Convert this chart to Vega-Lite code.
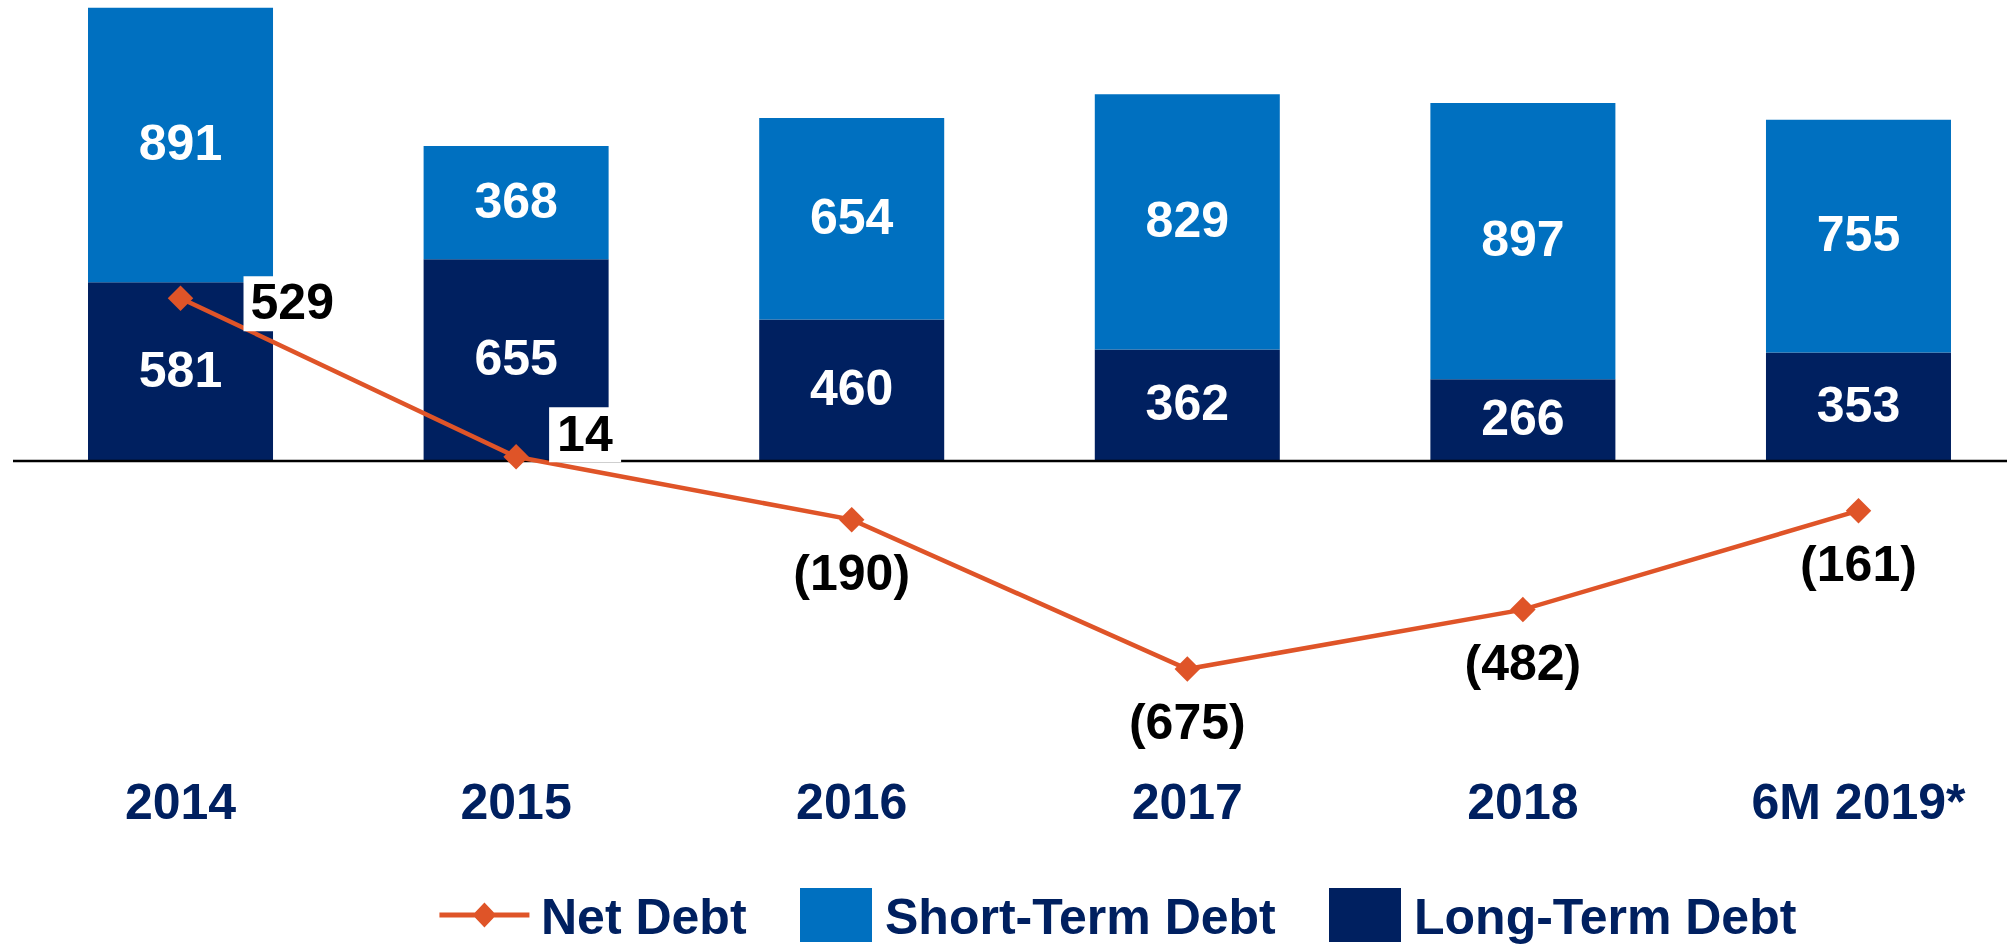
{
  "$schema": "https://vega.github.io/schema/vega-lite/v6.json",
  "width": 1994,
  "height": 771,
  "autosize": {"type": "none"},
  "padding": {"left": 13, "top": 0, "right": 0, "bottom": 175},
  "config": {"view": {"stroke": null}, "font": "Liberation Sans"},
  "data": {
    "values": [
      {"year": "2014", "series": "Long-Term Debt", "value": 581},
      {"year": "2015", "series": "Long-Term Debt", "value": 655},
      {"year": "2016", "series": "Long-Term Debt", "value": 460},
      {"year": "2017", "series": "Long-Term Debt", "value": 362},
      {"year": "2018", "series": "Long-Term Debt", "value": 266},
      {"year": "6M 2019*", "series": "Long-Term Debt", "value": 353},
      {"year": "2014", "series": "Short-Term Debt", "value": 891},
      {"year": "2015", "series": "Short-Term Debt", "value": 368},
      {"year": "2016", "series": "Short-Term Debt", "value": 654},
      {"year": "2017", "series": "Short-Term Debt", "value": 829},
      {"year": "2018", "series": "Short-Term Debt", "value": 897},
      {"year": "6M 2019*", "series": "Short-Term Debt", "value": 755},
      {"year": "2014", "series": "Net Debt", "value": 529},
      {"year": "2015", "series": "Net Debt", "value": 14},
      {"year": "2016", "series": "Net Debt", "value": -190},
      {"year": "2017", "series": "Net Debt", "value": -675},
      {"year": "2018", "series": "Net Debt", "value": -482},
      {"year": "6M 2019*", "series": "Net Debt", "value": -161}
    ]
  },
  "layer": [
    {
      "transform": [{"filter": "datum.series !== 'Net Debt'"}],
      "mark": {"type": "bar"},
      "encoding": {
        "x": {"field": "year", "type": "nominal", "sort": ["2014", "2015", "2016", "2017", "2018", "6M 2019*"],
          "scale": {"paddingInner": 0.4487, "paddingOuter": 0.1952, "align": 0.5725},
          "axis": {"title": null, "domain": false, "ticks": false, "tickSize": 0, "labelPadding": 7.5, "labelAngle": 0,
            "labelFont": "Liberation Sans", "labelFontSize": 50, "labelFontWeight": "bold", "labelColor": "#002060", "labelLimit": 1000}},
        "y": {"field": "value", "type": "quantitative", "stack": "zero", "scale": {"domain": [-1006, 1497], "nice": false, "zero": false}, "axis": null},
        "color": {"field": "series", "type": "nominal",
          "scale": {"domain": ["Net Debt", "Short-Term Debt", "Long-Term Debt"], "range": ["#DF5428", "#0070C0", "#002060"]},
          "legend": {
            "orient": "none", "legendX": 443, "legendY": 879, "direction": "horizontal", "title": null,
            "symbolSize": 5184, "symbolStrokeWidth": 0,
            "labelFont": "Liberation Sans", "labelFontSize": 50, "labelFontWeight": "bold", "labelColor": "#002060",
            "labelOffset": 13, "columnPadding": 53, "labelLimit": 1000,
            "encode": {
              "symbols": {"update": {
                "shape": [
                  {"test": "datum.value === 'Net Debt'", "value": "M-1.46,-0.07L1.04,-0.07L1.04,0.07L-1.46,0.07Z M-0.21,-0.35L0.12,0L-0.21,0.35L-0.54,0Z"},
                  {"value": "M-1,-0.75L1,-0.75L1,0.75L-1,0.75Z"}
                ],
                "fill": [
                  {"test": "datum.value === 'Net Debt'", "value": "#DF5428"},
                  {"test": "datum.value === 'Short-Term Debt'", "value": "#0070C0"},
                  {"value": "#002060"}
                ],
                "stroke": {"value": "transparent"},
                "opacity": {"value": 1}
              }},
              "labels": {"update": {"dy": {"value": 4}}}
            }
          }},
        "order": {"field": "series", "sort": "ascending"}
      }
    },
    {
      "transform": [{"filter": "datum.series !== 'Net Debt'"}],
      "mark": {"type": "text", "color": "white", "fontSize": 50, "fontWeight": "bold", "baseline": "middle", "font": "Liberation Sans"},
      "encoding": {
        "x": {"field": "year", "type": "nominal", "sort": ["2014", "2015", "2016", "2017", "2018", "6M 2019*"]},
        "y": {"field": "value", "type": "quantitative", "stack": "zero", "bandPosition": 0.5},
        "detail": {"field": "series", "type": "nominal"},
        "order": {"field": "series", "sort": "ascending"},
        "text": {"field": "value", "type": "quantitative", "format": "d"}
      }
    },
    {
      "data": {"values": [{}]},
      "mark": {"type": "rule", "color": "black", "strokeWidth": 2.5},
      "encoding": {"y": {"datum": 0}}
    },
    {
      "transform": [{"filter": "datum.series === 'Net Debt'"}],
      "mark": {"type": "line", "strokeWidth": 4.5, "point": {"shape": "diamond", "size": 650, "filled": true}},
      "encoding": {
        "x": {"field": "year", "type": "nominal", "sort": ["2014", "2015", "2016", "2017", "2018", "6M 2019*"]},
        "y": {"field": "value", "type": "quantitative"},
        "color": {"field": "series", "type": "nominal"}
      }
    },
    {
      "transform": [{"filter": "datum.series === 'Net Debt' && datum.value < 0"}],
      "mark": {"type": "text", "color": "black", "fontSize": 50, "fontWeight": "bold", "baseline": "middle", "align": "center", "dy": 55, "font": "Liberation Sans"},
      "encoding": {
        "x": {"field": "year", "type": "nominal", "sort": ["2014", "2015", "2016", "2017", "2018", "6M 2019*"]},
        "y": {"field": "value", "type": "quantitative"},
        "text": {"field": "value", "type": "quantitative", "format": "(.0f"}
      }
    },
    {
      "transform": [{"filter": "datum.series === 'Net Debt' && datum.year === '2014'"}],
      "encoding": {
        "x": {"field": "year", "type": "nominal", "sort": ["2014", "2015", "2016", "2017", "2018", "6M 2019*"]},
        "y": {"field": "value", "type": "quantitative"},
        "text": {"field": "value", "type": "quantitative", "format": "(.0f"}
      },
      "layer": [
        {"mark": {"type": "rect", "color": "white", "width": 100, "height": 55, "xOffset": 113, "yOffset": 5.5}},
        {"mark": {"type": "text", "color": "black", "fontSize": 50, "fontWeight": "bold", "baseline": "middle", "align": "left", "dx": 70, "dy": 6, "font": "Liberation Sans"}}
      ]
    },
    {
      "transform": [{"filter": "datum.series === 'Net Debt' && datum.year === '2015'"}],
      "encoding": {
        "x": {"field": "year", "type": "nominal", "sort": ["2014", "2015", "2016", "2017", "2018", "6M 2019*"]},
        "y": {"field": "value", "type": "quantitative"},
        "text": {"field": "value", "type": "quantitative", "format": "(.0f"}
      },
      "layer": [
        {"mark": {"type": "rect", "color": "white", "width": 72, "height": 55, "xOffset": 69, "yOffset": -22}},
        {"mark": {"type": "text", "color": "black", "fontSize": 50, "fontWeight": "bold", "baseline": "middle", "align": "left", "dx": 41, "dy": -21, "font": "Liberation Sans"}}
      ]
    }
  ]
}
